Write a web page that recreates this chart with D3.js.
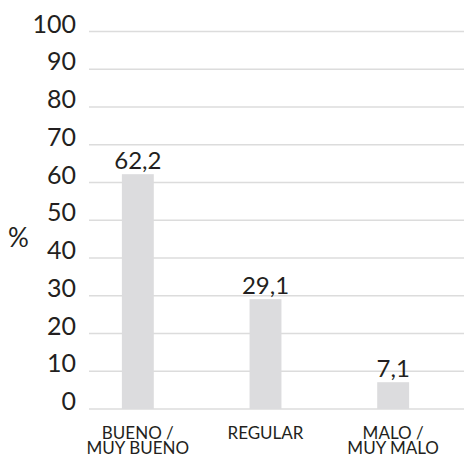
<!DOCTYPE html>
<html><head><meta charset="utf-8">
<script src="https://cdn.jsdelivr.net/npm/d3@7"></script>
<style>body{margin:0;background:#fff}svg{display:block}text{font-family:Lato,"Open Sans",sans-serif;fill:#231f20}</style>
</head><body>
<script>
const categories = [["BUENO /","MUY BUENO"],["REGULAR"],["MALO /","MUY MALO"]];
const values = [62.2, 29.1, 7.1];
const valueLabels = ["62,2","29,1","7,1"];
const yTicks = [0,10,20,30,40,50,60,70,80,90,100];
const yLabel = "%";

const W = 464, H = 457;
const svg = d3.select("body").append("svg").attr("width", W).attr("height", H);
const y = d3.scaleLinear().domain([0,100]).range([409, 31.5]);
const x = d3.scaleBand().domain(d3.range(categories.length)).range([74, 457]).paddingInner(0.75).paddingOuter(0.375);

const grid = svg.append("g");
grid.selectAll("line").data(yTicks).join("line")
  .attr("x1", 89).attr("x2", W)
  .attr("y1", d => y(d)).attr("y2", d => y(d))
  .attr("stroke", "#dcdcdc").attr("stroke-width", 1.3);

svg.append("g").selectAll("text").data(yTicks).join("text")
  .attr("x", 76).attr("y", d => y(d) + 1)
  .attr("text-anchor", "end").attr("font-size", 25)
  .text(d => d);

svg.append("text").attr("x", 18.5).attr("y", 247).attr("text-anchor","middle").attr("font-size", 26).text(yLabel);

svg.append("g").selectAll("rect").data(values).join("rect")
  .attr("x", (d,i) => x(i)).attr("width", x.bandwidth())
  .attr("y", d => y(d)).attr("height", d => y(0) - y(d))
  .attr("fill", "#dcdcde");

svg.append("g").selectAll("text").data(values).join("text")
  .attr("x", (d,i) => x(i) + x.bandwidth()/2).attr("y", d => y(d) - 5)
  .attr("text-anchor","middle").attr("font-size", 24)
  .text((d,i) => valueLabels[i]);

const cat = svg.append("g").selectAll("text").data(categories).join("text")
  .attr("x", (d,i) => x(i) + x.bandwidth()/2).attr("y", 439)
  .attr("text-anchor","middle").attr("font-size", 17);
cat.selectAll("tspan").data(d => d).join("tspan")
  .attr("x", function(){ return this.parentNode.getAttribute("x"); })
  .attr("dy", (d,j) => j === 0 ? 0 : 15)
  .text(d => d);
</script>
</body></html>
